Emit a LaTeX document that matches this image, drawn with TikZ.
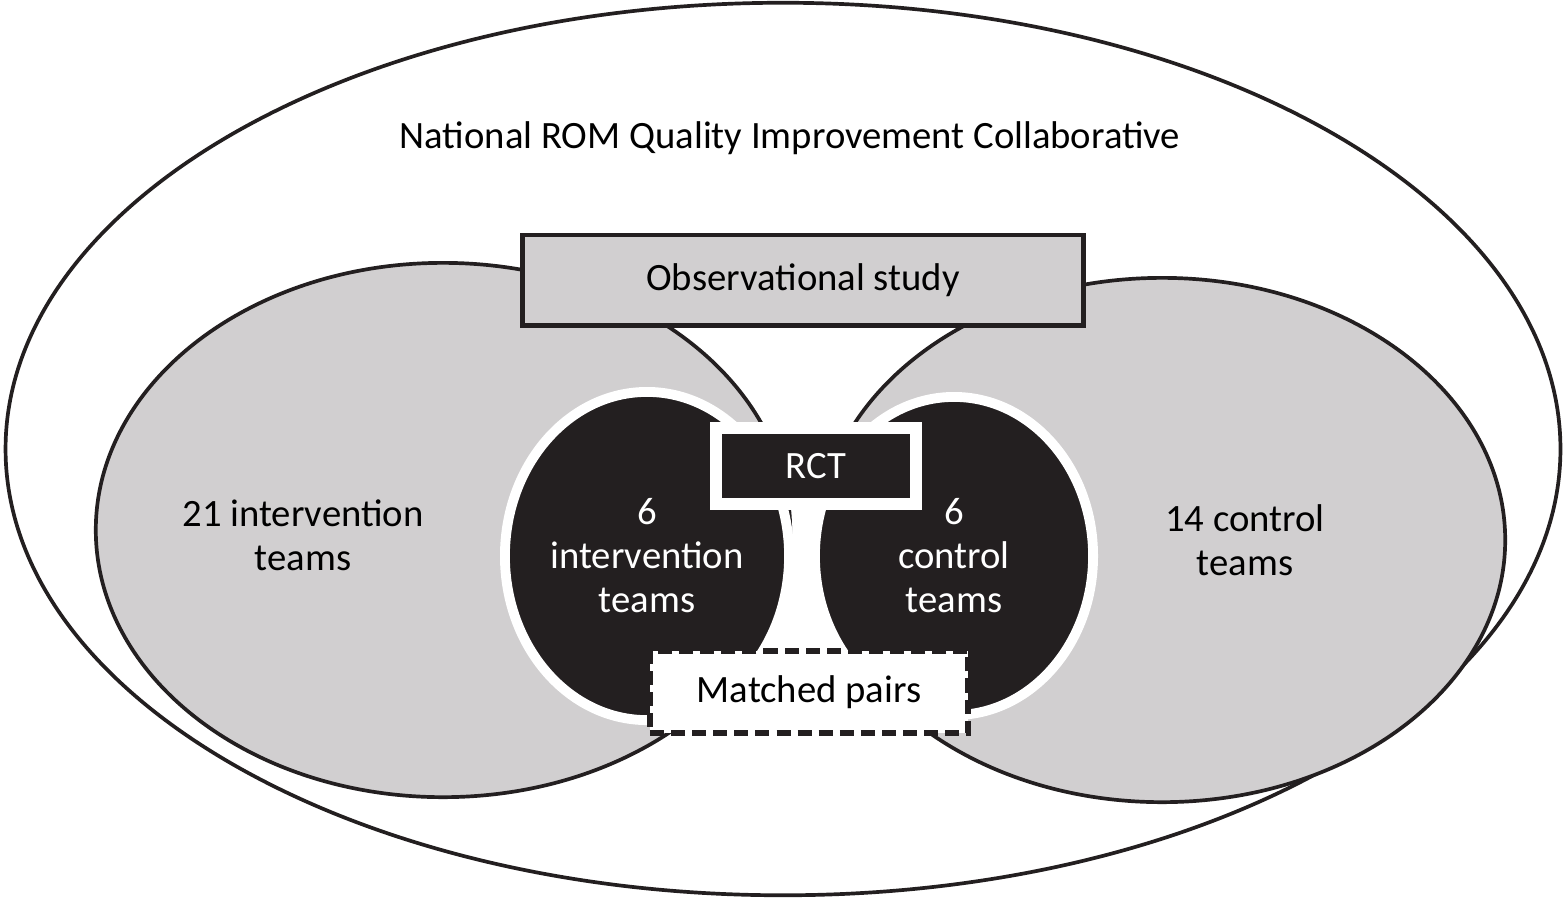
\documentclass[tikz,border=0pt]{standalone}
\usepackage{fontspec}
\setmainfont{Carlito}
\usetikzlibrary{shapes.geometric}
\definecolor{pane}{RGB}{209,207,208}
\definecolor{ink}{RGB}{35,31,32}

\begin{document}
\begin{tikzpicture}[x=0.01cm, y=-0.01cm,
    oval/.style={ellipse, inner sep=0pt, draw=ink, line width=1.05pt},
    group/.style={oval, fill=pane},
    core/.style={ellipse, inner sep=0pt, draw=white, line width=2.8pt, fill=ink,
                 text=white, align=center},
    lbl/.style={font=\fontsize{11}{12.5}\selectfont, align=center, inner sep=0pt},
    tag/.style={draw=ink, line width=1.4pt, inner sep=0pt, lbl}]

    \useasboundingbox (0,0) rectangle (1564,899);

    % ── collaborative ────────────────────────────────────────
    \node[oval, fill=white, minimum width=15.54cm, minimum height=8.92cm] (coll) at (783,449) {};
    \node[lbl] (ncoll) at (790,138) {National ROM Quality Improvement Collaborative};

    % ── observational groups ─────────────────────────────────
    \node[group, minimum width=6.94cm, minimum height=5.34cm] (gint) at (443,530) {};
    \node[group, minimum width=6.86cm, minimum height=5.24cm] (gctl) at (1162,540) {};
    \node[lbl] (nint) at (303,535) {21 intervention\\teams};
    \node[lbl] (nctl) at (1245,540) {14 control\\teams};
    \node[tag, fill=pane, minimum width=5.60cm, minimum height=0.90cm] (obs) at (803,280)
      {Observational study};

    % ── randomised trial ─────────────────────────────────────
    \node[core, lbl, text=white, minimum width=2.84cm, minimum height=3.28cm] (rint) at (647,556)
      {6\\intervention\\teams};
    \node[core, lbl, text=white, minimum width=2.78cm, minimum height=3.18cm] (rctl) at (954,556)
      {6\\control\\teams};
    \node[lbl, fill=ink, text=white, draw=white, line width=3.4pt,
          minimum width=2.00cm, minimum height=0.76cm] (rct) at (816,466) {RCT};
    \node[tag, fill=white, dash pattern=on 4pt off 2pt, line width=1.7pt,
          minimum width=3.18cm, minimum height=0.82cm] (pairs) at (809,692) {Matched pairs};

  \end{tikzpicture}
\end{document}
